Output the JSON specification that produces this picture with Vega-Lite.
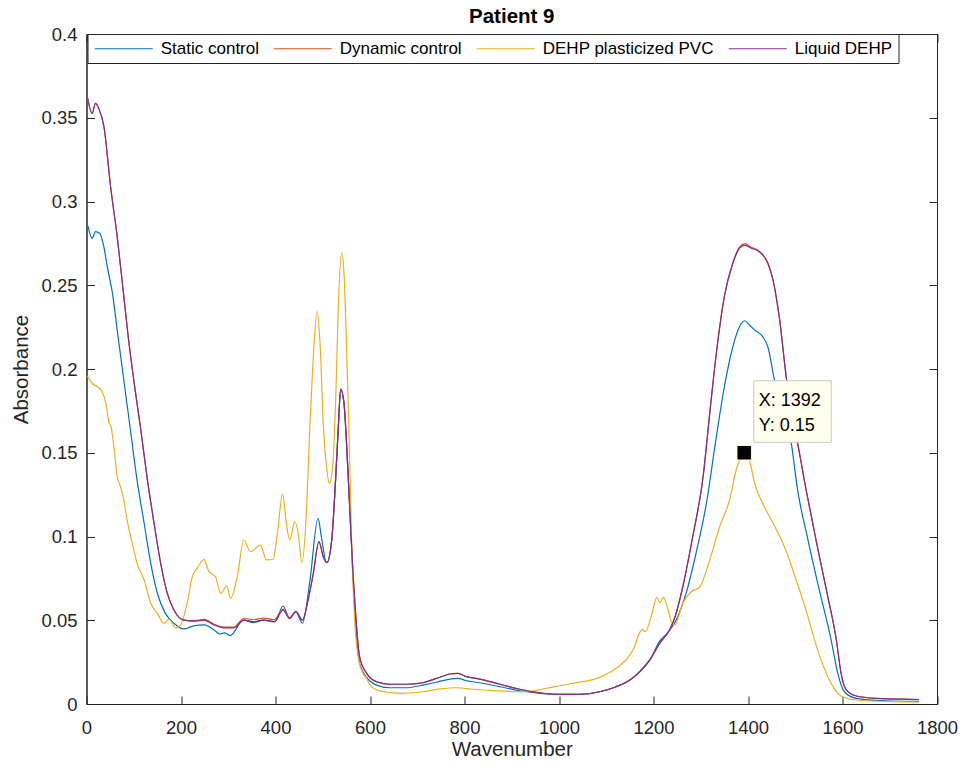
{
  "$schema": "https://vega.github.io/schema/vega-lite/v6.json",
  "width": 850.5,
  "height": 670,
  "autosize": {"type": "none"},
  "padding": {"left": 86.5, "top": 34, "right": 27, "bottom": 65},
  "background": "white",
  "title": {"text": "Patient 9", "font": "Liberation Sans", "fontSize": 20.5, "fontWeight": "bold", "color": "#000000", "offset": -2, "anchor": "middle"},
  "config": {
    "view": {"stroke": "#262626", "strokeWidth": 1},
    "axis": {"grid": false, "domainColor": "#262626", "tickColor": "#262626", "tickSize": -8, "labelFont": "Liberation Sans", "labelFontSize": 18.5, "labelColor": "#262626", "labelFlush": false, "titleFont": "Liberation Sans", "titleFontSize": 20.5, "titleFontWeight": "normal", "titleColor": "#262626"}
  },
  "datasets": {
    "spectra": [
      {"series":"Static control","x":3,"y":0.2854},{"series":"Static control","x":12,"y":0.278},{"series":"Static control","x":19,"y":0.282},{"series":"Static control","x":28,"y":0.281},{"series":"Static control","x":36,"y":0.274},{"series":"Static control","x":44,"y":0.2611},{"series":"Static control","x":55,"y":0.2452},{"series":"Static control","x":65,"y":0.2233},{"series":"Static control","x":79,"y":0.1934},{"series":"Static control","x":93,"y":0.1636},{"series":"Static control","x":107,"y":0.1337},{"series":"Static control","x":122,"y":0.1079},{"series":"Static control","x":136,"y":0.084},{"series":"Static control","x":150,"y":0.0661},{"series":"Static control","x":167,"y":0.0541},{"series":"Static control","x":185,"y":0.0482},{"series":"Static control","x":206,"y":0.0448},{"series":"Static control","x":227,"y":0.0466},{"series":"Static control","x":249,"y":0.0472},{"series":"Static control","x":270,"y":0.0442},{"series":"Static control","x":282,"y":0.0418},{"series":"Static control","x":293,"y":0.0425},{"series":"Static control","x":304,"y":0.0408},{"series":"Static control","x":332,"y":0.0501},{"series":"Static control","x":353,"y":0.0486},{"series":"Static control","x":374,"y":0.0501},{"series":"Static control","x":399,"y":0.0491},{"series":"Static control","x":416,"y":0.0585},{"series":"Static control","x":430,"y":0.0511},{"series":"Static control","x":443,"y":0.0551},{"series":"Static control","x":457,"y":0.0482},{"series":"Static control","x":473,"y":0.074},{"series":"Static control","x":490,"y":0.1109},{"series":"Static control","x":497,"y":0.100},{"series":"Static control","x":508,"y":0.0844},{"series":"Static control","x":519,"y":0.0979},{"series":"Static control","x":526,"y":0.1278},{"series":"Static control","x":533,"y":0.1655},{"series":"Static control","x":538,"y":0.1879},{"series":"Static control","x":545,"y":0.1795},{"series":"Static control","x":550,"y":0.1576},{"series":"Static control","x":557,"y":0.1178},{"series":"Static control","x":564,"y":0.076},{"series":"Static control","x":571,"y":0.0422},{"series":"Static control","x":578,"y":0.0243},{"series":"Static control","x":593,"y":0.0159},{"series":"Static control","x":614,"y":0.0113},{"series":"Static control","x":642,"y":0.0097},{"series":"Static control","x":677,"y":0.0097},{"series":"Static control","x":712,"y":0.0113},{"series":"Static control","x":741,"y":0.013},{"series":"Static control","x":769,"y":0.0149},{"series":"Static control","x":786,"y":0.0153},{"series":"Static control","x":804,"y":0.0139},{"series":"Static control","x":832,"y":0.0127},{"series":"Static control","x":875,"y":0.0103},{"series":"Static control","x":917,"y":0.0079},{"series":"Static control","x":959,"y":0.0064},{"series":"Static control","x":1001,"y":0.0058},{"series":"Static control","x":1044,"y":0.0058},{"series":"Static control","x":1086,"y":0.0073},{"series":"Static control","x":1121,"y":0.0103},{"series":"Static control","x":1150,"y":0.0143},{"series":"Static control","x":1171,"y":0.0193},{"series":"Static control","x":1192,"y":0.026},{"series":"Static control","x":1213,"y":0.0375},{"series":"Static control","x":1230,"y":0.0426},{"series":"Static control","x":1248,"y":0.0501},{"series":"Static control","x":1269,"y":0.0661},{"series":"Static control","x":1290,"y":0.09},{"series":"Static control","x":1312,"y":0.1198},{"series":"Static control","x":1333,"y":0.1596},{"series":"Static control","x":1350,"y":0.1894},{"series":"Static control","x":1368,"y":0.2133},{"series":"Static control","x":1382,"y":0.2252},{"series":"Static control","x":1393,"y":0.2288},{"series":"Static control","x":1403,"y":0.2263},{"series":"Static control","x":1414,"y":0.2233},{"series":"Static control","x":1431,"y":0.2193},{"series":"Static control","x":1442,"y":0.2133},{"series":"Static control","x":1456,"y":0.1934},{"series":"Static control","x":1474,"y":0.174},{"series":"Static control","x":1491,"y":0.1566},{"series":"Static control","x":1505,"y":0.1278},{"series":"Static control","x":1527,"y":0.0979},{"series":"Static control","x":1551,"y":0.068},{"series":"Static control","x":1576,"y":0.0382},{"series":"Static control","x":1590,"y":0.0183},{"series":"Static control","x":1604,"y":0.0073},{"series":"Static control","x":1629,"y":0.0034},{"series":"Static control","x":1700,"y":0.0018},{"series":"Static control","x":1762,"y":0.0016},

      {"series":"Dynamic control","x":2,"y":0.3622},{"series":"Dynamic control","x":12,"y":0.3526},{"series":"Dynamic control","x":19,"y":0.3586},{"series":"Dynamic control","x":26,"y":0.3556},{"series":"Dynamic control","x":37,"y":0.3446},{"series":"Dynamic control","x":51,"y":0.3088},{"series":"Dynamic control","x":65,"y":0.279},{"series":"Dynamic control","x":79,"y":0.2432},{"series":"Dynamic control","x":88,"y":0.22},{"series":"Dynamic control","x":100,"y":0.1934},{"series":"Dynamic control","x":115,"y":0.1636},{"series":"Dynamic control","x":129,"y":0.1337},{"series":"Dynamic control","x":143,"y":0.1079},{"series":"Dynamic control","x":157,"y":0.084},{"series":"Dynamic control","x":171,"y":0.0661},{"series":"Dynamic control","x":185,"y":0.0561},{"series":"Dynamic control","x":206,"y":0.0501},{"series":"Dynamic control","x":227,"y":0.0498},{"series":"Dynamic control","x":249,"y":0.0505},{"series":"Dynamic control","x":270,"y":0.0476},{"series":"Dynamic control","x":291,"y":0.0459},{"series":"Dynamic control","x":312,"y":0.0459},{"series":"Dynamic control","x":333,"y":0.0512},{"series":"Dynamic control","x":354,"y":0.0503},{"series":"Dynamic control","x":375,"y":0.0513},{"series":"Dynamic control","x":397,"y":0.0503},{"series":"Dynamic control","x":416,"y":0.0566},{"series":"Dynamic control","x":430,"y":0.0514},{"series":"Dynamic control","x":443,"y":0.0553},{"series":"Dynamic control","x":457,"y":0.0501},{"series":"Dynamic control","x":469,"y":0.0621},{"series":"Dynamic control","x":480,"y":0.078},{"series":"Dynamic control","x":492,"y":0.0969},{"series":"Dynamic control","x":501,"y":0.0879},{"series":"Dynamic control","x":509,"y":0.0844},{"series":"Dynamic control","x":519,"y":0.0979},{"series":"Dynamic control","x":526,"y":0.1278},{"series":"Dynamic control","x":533,"y":0.1655},{"series":"Dynamic control","x":538,"y":0.1882},{"series":"Dynamic control","x":545,"y":0.1795},{"series":"Dynamic control","x":550,"y":0.1576},{"series":"Dynamic control","x":557,"y":0.1178},{"series":"Dynamic control","x":564,"y":0.078},{"series":"Dynamic control","x":570,"y":0.052},{"series":"Dynamic control","x":578,"y":0.0282},{"series":"Dynamic control","x":593,"y":0.0183},{"series":"Dynamic control","x":614,"y":0.0133},{"series":"Dynamic control","x":642,"y":0.0118},{"series":"Dynamic control","x":677,"y":0.0118},{"series":"Dynamic control","x":712,"y":0.0127},{"series":"Dynamic control","x":741,"y":0.0153},{"series":"Dynamic control","x":769,"y":0.0179},{"series":"Dynamic control","x":786,"y":0.0183},{"series":"Dynamic control","x":804,"y":0.0163},{"series":"Dynamic control","x":832,"y":0.0149},{"series":"Dynamic control","x":875,"y":0.0118},{"series":"Dynamic control","x":917,"y":0.0088},{"series":"Dynamic control","x":959,"y":0.0067},{"series":"Dynamic control","x":1001,"y":0.0058},{"series":"Dynamic control","x":1044,"y":0.0058},{"series":"Dynamic control","x":1086,"y":0.0073},{"series":"Dynamic control","x":1121,"y":0.0103},{"series":"Dynamic control","x":1150,"y":0.0143},{"series":"Dynamic control","x":1171,"y":0.0193},{"series":"Dynamic control","x":1192,"y":0.0263},{"series":"Dynamic control","x":1213,"y":0.0362},{"series":"Dynamic control","x":1234,"y":0.0442},{"series":"Dynamic control","x":1245,"y":0.0515},{"series":"Dynamic control","x":1262,"y":0.07},{"series":"Dynamic control","x":1283,"y":0.0999},{"series":"Dynamic control","x":1305,"y":0.1357},{"series":"Dynamic control","x":1319,"y":0.1735},{"series":"Dynamic control","x":1333,"y":0.2094},{"series":"Dynamic control","x":1350,"y":0.2435},{"series":"Dynamic control","x":1368,"y":0.2636},{"series":"Dynamic control","x":1382,"y":0.2728},{"series":"Dynamic control","x":1393,"y":0.2748},{"series":"Dynamic control","x":1407,"y":0.2726},{"series":"Dynamic control","x":1424,"y":0.2703},{"series":"Dynamic control","x":1442,"y":0.2633},{"series":"Dynamic control","x":1453,"y":0.2531},{"series":"Dynamic control","x":1467,"y":0.2293},{"series":"Dynamic control","x":1481,"y":0.195},{"series":"Dynamic control","x":1495,"y":0.169},{"series":"Dynamic control","x":1505,"y":0.1556},{"series":"Dynamic control","x":1523,"y":0.1278},{"series":"Dynamic control","x":1544,"y":0.0979},{"series":"Dynamic control","x":1566,"y":0.068},{"series":"Dynamic control","x":1587,"y":0.0382},{"series":"Dynamic control","x":1597,"y":0.0183},{"series":"Dynamic control","x":1608,"y":0.0084},{"series":"Dynamic control","x":1629,"y":0.0048},{"series":"Dynamic control","x":1671,"y":0.0034},{"series":"Dynamic control","x":1742,"y":0.0028},{"series":"Dynamic control","x":1762,"y":0.0027},

      {"series":"DEHP plasticized PVC","x":2,"y":0.1958},{"series":"DEHP plasticized PVC","x":12,"y":0.1915},{"series":"DEHP plasticized PVC","x":23,"y":0.1894},{"series":"DEHP plasticized PVC","x":33,"y":0.1865},{"series":"DEHP plasticized PVC","x":41,"y":0.1795},{"series":"DEHP plasticized PVC","x":48,"y":0.1676},{"series":"DEHP plasticized PVC","x":52,"y":0.1655},{"series":"DEHP plasticized PVC","x":58,"y":0.1536},{"series":"DEHP plasticized PVC","x":65,"y":0.1357},{"series":"DEHP plasticized PVC","x":72,"y":0.1297},{"series":"DEHP plasticized PVC","x":79,"y":0.1218},{"series":"DEHP plasticized PVC","x":86,"y":0.1098},{"series":"DEHP plasticized PVC","x":97,"y":0.0959},{"series":"DEHP plasticized PVC","x":107,"y":0.084},{"series":"DEHP plasticized PVC","x":122,"y":0.074},{"series":"DEHP plasticized PVC","x":136,"y":0.0601},{"series":"DEHP plasticized PVC","x":150,"y":0.0541},{"series":"DEHP plasticized PVC","x":164,"y":0.0482},{"series":"DEHP plasticized PVC","x":174,"y":0.0506},{"series":"DEHP plasticized PVC","x":189,"y":0.0455},{"series":"DEHP plasticized PVC","x":199,"y":0.0472},{"series":"DEHP plasticized PVC","x":213,"y":0.0601},{"series":"DEHP plasticized PVC","x":224,"y":0.076},{"series":"DEHP plasticized PVC","x":234,"y":0.081},{"series":"DEHP plasticized PVC","x":249,"y":0.0864},{"series":"DEHP plasticized PVC","x":259,"y":0.079},{"series":"DEHP plasticized PVC","x":273,"y":0.076},{"series":"DEHP plasticized PVC","x":284,"y":0.0661},{"series":"DEHP plasticized PVC","x":297,"y":0.0704},{"series":"DEHP plasticized PVC","x":305,"y":0.0631},{"series":"DEHP plasticized PVC","x":319,"y":0.076},{"series":"DEHP plasticized PVC","x":333,"y":0.0979},{"series":"DEHP plasticized PVC","x":347,"y":0.0909},{"series":"DEHP plasticized PVC","x":368,"y":0.0949},{"series":"DEHP plasticized PVC","x":381,"y":0.086},{"series":"DEHP plasticized PVC","x":395,"y":0.0864},{"series":"DEHP plasticized PVC","x":404,"y":0.1019},{"series":"DEHP plasticized PVC","x":415,"y":0.1253},{"series":"DEHP plasticized PVC","x":423,"y":0.1079},{"series":"DEHP plasticized PVC","x":430,"y":0.0979},{"series":"DEHP plasticized PVC","x":441,"y":0.1088},{"series":"DEHP plasticized PVC","x":448,"y":0.1019},{"series":"DEHP plasticized PVC","x":456,"y":0.0844},{"series":"DEHP plasticized PVC","x":466,"y":0.1178},{"series":"DEHP plasticized PVC","x":473,"y":0.1676},{"series":"DEHP plasticized PVC","x":480,"y":0.2074},{"series":"DEHP plasticized PVC","x":488,"y":0.2342},{"series":"DEHP plasticized PVC","x":495,"y":0.2113},{"series":"DEHP plasticized PVC","x":501,"y":0.1676},{"series":"DEHP plasticized PVC","x":508,"y":0.1417},{"series":"DEHP plasticized PVC","x":514,"y":0.1318},{"series":"DEHP plasticized PVC","x":521,"y":0.1417},{"series":"DEHP plasticized PVC","x":528,"y":0.1875},{"series":"DEHP plasticized PVC","x":533,"y":0.2372},{"series":"DEHP plasticized PVC","x":540,"y":0.2694},{"series":"DEHP plasticized PVC","x":545,"y":0.2571},{"series":"DEHP plasticized PVC","x":550,"y":0.2173},{"series":"DEHP plasticized PVC","x":556,"y":0.1576},{"series":"DEHP plasticized PVC","x":561,"y":0.0979},{"series":"DEHP plasticized PVC","x":568,"y":0.0482},{"series":"DEHP plasticized PVC","x":575,"y":0.0282},{"series":"DEHP plasticized PVC","x":585,"y":0.0183},{"series":"DEHP plasticized PVC","x":593,"y":0.0153},{"series":"DEHP plasticized PVC","x":600,"y":0.0113},{"series":"DEHP plasticized PVC","x":621,"y":0.0078},{"series":"DEHP plasticized PVC","x":663,"y":0.0064},{"series":"DEHP plasticized PVC","x":712,"y":0.0073},{"series":"DEHP plasticized PVC","x":748,"y":0.009},{"series":"DEHP plasticized PVC","x":783,"y":0.0097},{"series":"DEHP plasticized PVC","x":818,"y":0.0088},{"series":"DEHP plasticized PVC","x":875,"y":0.0078},{"series":"DEHP plasticized PVC","x":931,"y":0.0073},{"series":"DEHP plasticized PVC","x":973,"y":0.0094},{"series":"DEHP plasticized PVC","x":1030,"y":0.0124},{"series":"DEHP plasticized PVC","x":1086,"y":0.0159},{"series":"DEHP plasticized PVC","x":1121,"y":0.0213},{"series":"DEHP plasticized PVC","x":1150,"y":0.0293},{"series":"DEHP plasticized PVC","x":1160,"y":0.0342},{"series":"DEHP plasticized PVC","x":1167,"y":0.0402},{"series":"DEHP plasticized PVC","x":1176,"y":0.0446},{"series":"DEHP plasticized PVC","x":1183,"y":0.0432},{"series":"DEHP plasticized PVC","x":1195,"y":0.0521},{"series":"DEHP plasticized PVC","x":1207,"y":0.0637},{"series":"DEHP plasticized PVC","x":1214,"y":0.0605},{"series":"DEHP plasticized PVC","x":1221,"y":0.0637},{"series":"DEHP plasticized PVC","x":1231,"y":0.0561},{"series":"DEHP plasticized PVC","x":1238,"y":0.0491},{"series":"DEHP plasticized PVC","x":1245,"y":0.0472},{"series":"DEHP plasticized PVC","x":1262,"y":0.0601},{"series":"DEHP plasticized PVC","x":1280,"y":0.067},{"series":"DEHP plasticized PVC","x":1298,"y":0.07},{"series":"DEHP plasticized PVC","x":1319,"y":0.086},{"series":"DEHP plasticized PVC","x":1340,"y":0.1058},{"series":"DEHP plasticized PVC","x":1361,"y":0.1218},{"series":"DEHP plasticized PVC","x":1375,"y":0.1397},{"series":"DEHP plasticized PVC","x":1382,"y":0.1457},{"series":"DEHP plasticized PVC","x":1392,"y":0.15},{"series":"DEHP plasticized PVC","x":1403,"y":0.1457},{"series":"DEHP plasticized PVC","x":1414,"y":0.1318},{"series":"DEHP plasticized PVC","x":1431,"y":0.1198},{"series":"DEHP plasticized PVC","x":1453,"y":0.108},{"series":"DEHP plasticized PVC","x":1477,"y":0.094},{"series":"DEHP plasticized PVC","x":1502,"y":0.074},{"series":"DEHP plasticized PVC","x":1525,"y":0.054},{"series":"DEHP plasticized PVC","x":1541,"y":0.038},{"series":"DEHP plasticized PVC","x":1560,"y":0.0223},{"series":"DEHP plasticized PVC","x":1578,"y":0.0113},{"series":"DEHP plasticized PVC","x":1597,"y":0.0048},{"series":"DEHP plasticized PVC","x":1629,"y":0.0024},{"series":"DEHP plasticized PVC","x":1706,"y":0.0014},{"series":"DEHP plasticized PVC","x":1762,"y":0.0012},

      {"series":"Liquid DEHP","x":2,"y":0.3622},{"series":"Liquid DEHP","x":12,"y":0.3526},{"series":"Liquid DEHP","x":19,"y":0.3586},{"series":"Liquid DEHP","x":26,"y":0.3556},{"series":"Liquid DEHP","x":37,"y":0.3446},{"series":"Liquid DEHP","x":51,"y":0.3088},{"series":"Liquid DEHP","x":65,"y":0.279},{"series":"Liquid DEHP","x":79,"y":0.2432},{"series":"Liquid DEHP","x":88,"y":0.22},{"series":"Liquid DEHP","x":100,"y":0.1934},{"series":"Liquid DEHP","x":115,"y":0.1636},{"series":"Liquid DEHP","x":129,"y":0.1337},{"series":"Liquid DEHP","x":143,"y":0.1079},{"series":"Liquid DEHP","x":157,"y":0.084},{"series":"Liquid DEHP","x":171,"y":0.0661},{"series":"Liquid DEHP","x":185,"y":0.0561},{"series":"Liquid DEHP","x":206,"y":0.0501},{"series":"Liquid DEHP","x":227,"y":0.0495},{"series":"Liquid DEHP","x":249,"y":0.0501},{"series":"Liquid DEHP","x":270,"y":0.0472},{"series":"Liquid DEHP","x":291,"y":0.0455},{"series":"Liquid DEHP","x":312,"y":0.0455},{"series":"Liquid DEHP","x":333,"y":0.0501},{"series":"Liquid DEHP","x":354,"y":0.0491},{"series":"Liquid DEHP","x":375,"y":0.0501},{"series":"Liquid DEHP","x":397,"y":0.0491},{"series":"Liquid DEHP","x":416,"y":0.0561},{"series":"Liquid DEHP","x":430,"y":0.0511},{"series":"Liquid DEHP","x":443,"y":0.0551},{"series":"Liquid DEHP","x":457,"y":0.0501},{"series":"Liquid DEHP","x":469,"y":0.0621},{"series":"Liquid DEHP","x":480,"y":0.078},{"series":"Liquid DEHP","x":492,"y":0.0969},{"series":"Liquid DEHP","x":501,"y":0.0879},{"series":"Liquid DEHP","x":509,"y":0.0844},{"series":"Liquid DEHP","x":519,"y":0.0979},{"series":"Liquid DEHP","x":526,"y":0.1278},{"series":"Liquid DEHP","x":533,"y":0.1655},{"series":"Liquid DEHP","x":538,"y":0.1879},{"series":"Liquid DEHP","x":545,"y":0.1795},{"series":"Liquid DEHP","x":550,"y":0.1576},{"series":"Liquid DEHP","x":557,"y":0.1178},{"series":"Liquid DEHP","x":564,"y":0.078},{"series":"Liquid DEHP","x":570,"y":0.052},{"series":"Liquid DEHP","x":578,"y":0.0282},{"series":"Liquid DEHP","x":593,"y":0.0183},{"series":"Liquid DEHP","x":614,"y":0.0133},{"series":"Liquid DEHP","x":642,"y":0.0118},{"series":"Liquid DEHP","x":677,"y":0.0118},{"series":"Liquid DEHP","x":712,"y":0.0127},{"series":"Liquid DEHP","x":741,"y":0.0153},{"series":"Liquid DEHP","x":769,"y":0.0179},{"series":"Liquid DEHP","x":786,"y":0.0183},{"series":"Liquid DEHP","x":804,"y":0.0163},{"series":"Liquid DEHP","x":832,"y":0.0149},{"series":"Liquid DEHP","x":875,"y":0.0118},{"series":"Liquid DEHP","x":917,"y":0.0088},{"series":"Liquid DEHP","x":959,"y":0.0067},{"series":"Liquid DEHP","x":1001,"y":0.0058},{"series":"Liquid DEHP","x":1044,"y":0.0058},{"series":"Liquid DEHP","x":1086,"y":0.0073},{"series":"Liquid DEHP","x":1121,"y":0.0103},{"series":"Liquid DEHP","x":1150,"y":0.0143},{"series":"Liquid DEHP","x":1171,"y":0.0193},{"series":"Liquid DEHP","x":1192,"y":0.0263},{"series":"Liquid DEHP","x":1213,"y":0.0362},{"series":"Liquid DEHP","x":1234,"y":0.0442},{"series":"Liquid DEHP","x":1245,"y":0.0515},{"series":"Liquid DEHP","x":1262,"y":0.07},{"series":"Liquid DEHP","x":1283,"y":0.0999},{"series":"Liquid DEHP","x":1305,"y":0.1357},{"series":"Liquid DEHP","x":1319,"y":0.1735},{"series":"Liquid DEHP","x":1333,"y":0.2094},{"series":"Liquid DEHP","x":1350,"y":0.2432},{"series":"Liquid DEHP","x":1368,"y":0.2631},{"series":"Liquid DEHP","x":1382,"y":0.2721},{"series":"Liquid DEHP","x":1393,"y":0.274},{"series":"Liquid DEHP","x":1407,"y":0.2721},{"series":"Liquid DEHP","x":1424,"y":0.27},{"series":"Liquid DEHP","x":1442,"y":0.2631},{"series":"Liquid DEHP","x":1453,"y":0.2531},{"series":"Liquid DEHP","x":1467,"y":0.2293},{"series":"Liquid DEHP","x":1481,"y":0.195},{"series":"Liquid DEHP","x":1495,"y":0.169},{"series":"Liquid DEHP","x":1505,"y":0.1556},{"series":"Liquid DEHP","x":1523,"y":0.1278},{"series":"Liquid DEHP","x":1544,"y":0.0979},{"series":"Liquid DEHP","x":1566,"y":0.068},{"series":"Liquid DEHP","x":1587,"y":0.0382},{"series":"Liquid DEHP","x":1597,"y":0.0183},{"series":"Liquid DEHP","x":1608,"y":0.0084},{"series":"Liquid DEHP","x":1629,"y":0.0048},{"series":"Liquid DEHP","x":1671,"y":0.0034},{"series":"Liquid DEHP","x":1742,"y":0.0028},{"series":"Liquid DEHP","x":1762,"y":0.0027}
    ],
    "tip": [{"x": 1392, "y": 0.15, "label": "X: 1392\nY: 0.15"}]
  },
  "layer": [
    {
      "data": {"name": "spectra"},
      "mark": {"type": "line", "strokeWidth": 1.2, "interpolate": "monotone"},
      "encoding": {
        "x": {"field": "x", "type": "quantitative", "scale": {"domain": [0, 1800], "nice": false},
              "axis": {"orient": "bottom", "title": "Wavenumber", "values": [0,200,400,600,800,1000,1200,1400,1600,1800], "format": "d", "labelPadding": 22, "titlePadding": 3}},
        "y": {"field": "y", "type": "quantitative", "scale": {"domain": [0, 0.4], "nice": false},
              "axis": {"orient": "left", "title": "Absorbance", "values": [0,0.05,0.1,0.15,0.2,0.25,0.3,0.35,0.4], "format": "~g", "labelPadding": 17.5, "titlePadding": 9}},
        "color": {"field": "series", "type": "nominal",
                  "scale": {"domain": ["Static control", "Dynamic control", "DEHP plasticized PVC", "Liquid DEHP"], "range": ["#0072BD", "#D95319", "#EDB120", "#7E2F8E"]},
                  "legend": {"orient": "none", "legendX": 1, "legendY": 0, "direction": "horizontal", "columns": 4, "title": null,
                             "symbolType": "M-4,0H4", "symbolSize": 210, "symbolOffset": 21.75, "symbolStrokeWidth": 1.2,
                             "labelFont": "Liberation Sans", "labelFontSize": 17, "labelColor": "#000000", "labelOffset": 28.5, "labelLimit": 400,
                             "columnPadding": 11, "padding": 6, "strokeColor": "#262626", "fillColor": "#FFFFFF"}}
      }
    },
    {
      "data": {"name": "tip"},
      "mark": {"type": "rect", "fill": "#FFFFEE", "stroke": "#C8C8C8", "strokeWidth": 1, "xOffset": 9.5, "x2Offset": 87, "yOffset": -72, "y2Offset": -10.5},
      "encoding": {
        "x": {"field": "x", "type": "quantitative", "scale": {"domain": [0, 1800], "nice": false}, "axis": null},
        "x2": {"field": "x"},
        "y": {"field": "y", "type": "quantitative", "scale": {"domain": [0, 0.4], "nice": false}, "axis": null},
        "y2": {"field": "y"}
      }
    },
    {
      "data": {"name": "tip"},
      "mark": {"type": "text", "align": "left", "baseline": "alphabetic", "dx": 14.5, "dy": -46.5, "lineBreak": "\n", "lineHeight": 25, "font": "Liberation Sans", "fontSize": 18, "color": "#000000"},
      "encoding": {
        "x": {"field": "x", "type": "quantitative", "scale": {"domain": [0, 1800], "nice": false}, "axis": null},
        "y": {"field": "y", "type": "quantitative", "scale": {"domain": [0, 0.4], "nice": false}, "axis": null},
        "text": {"field": "label"}
      }
    },
    {
      "data": {"name": "tip"},
      "mark": {"type": "point", "shape": "square", "size": 210, "filled": true, "fill": "#000000", "stroke": "#FFF8C8", "strokeWidth": 1, "opacity": 1},
      "encoding": {
        "x": {"field": "x", "type": "quantitative", "scale": {"domain": [0, 1800], "nice": false},
              "axis": {"orient": "top", "title": null, "labels": false, "values": [0,200,400,600,800,1000,1200,1400,1600,1800]}},
        "y": {"field": "y", "type": "quantitative", "scale": {"domain": [0, 0.4], "nice": false},
              "axis": {"orient": "right", "title": null, "labels": false, "values": [0,0.05,0.1,0.15,0.2,0.25,0.3,0.35,0.4]}}
      }
    }
  ],
  "resolve": {"axis": {"x": "independent", "y": "independent"}}
}
